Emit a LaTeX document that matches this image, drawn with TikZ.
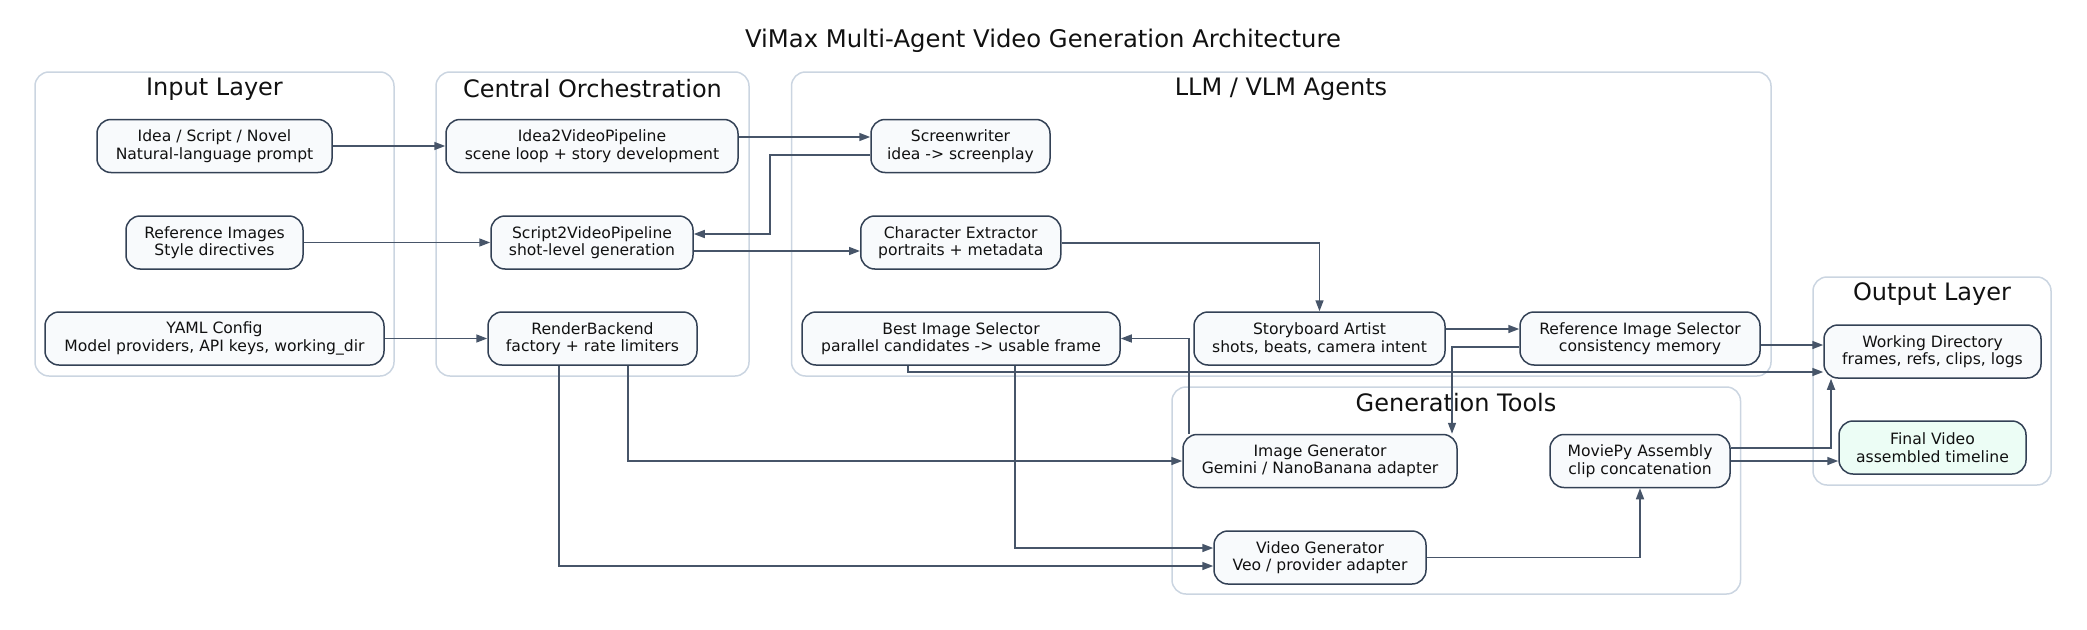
\documentclass[tikz,border=0pt]{standalone}
\usepackage{fontspec}
\setmainfont{DejaVu Sans}
\usetikzlibrary{arrows.meta}
\definecolor{edgec}{HTML}{475569}
\definecolor{nodeb}{HTML}{334155}
\definecolor{nodef}{HTML}{F8FAFC}
\definecolor{clusb}{HTML}{CBD5E1}
\definecolor{finalf}{HTML}{ECFDF5}
\definecolor{txt}{HTML}{111111}
\begin{document}
\begin{tikzpicture}[x=1pt,y=-1pt,
  box/.style={draw=nodeb, fill=nodef, line width=1.5pt, rounded corners=14pt,
    minimum height=53pt, inner sep=0pt, align=center, text=txt,
    font=\fontsize{15.6}{17.5}\selectfont},
  clus/.style={draw=clusb, line width=1.5pt, rounded corners=14pt},
  clabel/.style={font=\fontsize{24}{26}\selectfont, text=txt, inner sep=0pt},
  conn/.style={draw=edgec, line width=1.55pt, -{Triangle[length=11pt,width=8pt]}}
]
\useasboundingbox (0,0) rectangle (2087,629);
% title
\node[clabel, font=\fontsize{24.3}{26}\selectfont] (title) at (1043,41) {ViMax Multi-Agent Video Generation Architecture};
% clusters
\draw[clus] (35,72) rectangle (394,376);
\draw[clus] (436,72) rectangle (749,376);
\draw[clus] (791.5,72) rectangle (1771,376);
\draw[clus] (1813,277) rectangle (2051,485);
\draw[clus] (1172,387) rectangle (1740.5,594);
\node[clabel] (linput) at (214.5,89) {Input Layer};
\node[clabel] (lcentral) at (592.5,89) {Central Orchestration};
\node[clabel] (lllm) at (1281,89) {LLM / VLM Agents};
\node[clabel] (loutput) at (1932,294) {Output Layer};
\node[clabel] (lgen) at (1456,403) {Generation Tools};
% nodes
\node[box, minimum width=235pt] (idea) at (214.5,146) {Idea / Script / Novel\\Natural-language prompt};
\node[box, minimum width=292pt] (i2v) at (592,146) {Idea2VideoPipeline\\scene loop + story development};
\node[box, minimum width=177pt] (refimg) at (214.5,242.5) {Reference Images\\Style directives};
\node[box, minimum width=202pt] (s2v) at (592,242.5) {Script2VideoPipeline\\shot-level generation};
\node[box, minimum width=339pt] (yaml) at (214.5,338.5) {YAML Config\\Model providers, API keys, working\_dir};
\node[box, minimum width=209pt] (render) at (592.5,338.5) {RenderBackend\\factory + rate limiters};
\node[box, minimum width=179pt] (screen) at (960.5,146) {Screenwriter\\idea -> screenplay};
\node[box, minimum width=200pt] (charx) at (960.75,242.5) {Character Extractor\\portraits + metadata};
\node[box, minimum width=318pt] (bis) at (961,338.5) {Best Image Selector\\parallel candidates -> usable frame};
\node[box, minimum width=251pt] (sba) at (1319.5,338.5) {Storyboard Artist\\shots, beats, camera intent};
\node[box, minimum width=240pt] (ris) at (1640,338.5) {Reference Image Selector\\consistency memory};
\node[box, minimum width=217pt] (wd) at (1932.5,351.5) {Working Directory\\frames, refs, clips, logs};
\node[box, minimum width=187pt, fill=finalf] (fv) at (1932.5,447.5) {Final Video\\assembled timeline};
\node[box, minimum width=274pt] (imgen) at (1320,461) {Image Generator\\Gemini / NanoBanana adapter};
\node[box, minimum width=180pt] (moviepy) at (1640,461) {MoviePy Assembly\\clip concatenation};
\node[box, minimum width=212pt] (vidgen) at (1320,557.5) {Video Generator\\Veo / provider adapter};
% helper coordinates
\coordinate (y137) at (0,137);
\coordinate (y155) at (0,155);
\coordinate (y234) at (0,234);
\coordinate (y251) at (0,251);
\coordinate (y243) at (0,243);
\coordinate (y329) at (0,329);
\coordinate (y338) at (0,338);
\coordinate (y347) at (0,347);
\coordinate (y345) at (0,345);
\coordinate (y372) at (0,372);
\coordinate (y548) at (0,548);
\coordinate (y566) at (0,566);
\coordinate (y448) at (0,448);
\coordinate (x770) at (770,0);
\coordinate (x1189) at (1189,0);
\coordinate (x1452) at (1452,0);
\coordinate (x908) at (908,0);
\coordinate (x1015) at (1015,0);
\coordinate (x628) at (628,0);
\coordinate (x559) at (559,0);
\coordinate (x1831) at (1831,0);
% connectors
\draw[conn] (idea.east) -- (i2v.west);
\draw[conn] (refimg.east) -- (s2v.west);
\draw[conn] (yaml.east) -- (render.west);
\draw[conn] (i2v.east |- y137) -- (screen.west |- y137);
\draw[conn] (screen.west |- y155) -- (x770 |- y155) -- (x770 |- y234) -- (s2v.east |- y234);
\draw[conn] (s2v.east |- y251) -- (charx.west |- y251);
\draw[conn] (charx.east |- y243) -| (sba.north);
\draw[conn] (sba.east |- y329) -- (ris.west |- y329);
\draw[conn] (x1189 |- imgen.north) -- (x1189 |- bis.east) -- (bis.east);
\draw[conn] (ris.west |- y347) -- (x1452 |- y347) -- (x1452 |- imgen.north);
\draw[conn] (ris.east |- y345) -- (wd.west |- y345);
\draw[conn] (x908 |- bis.south) -- (x908 |- y372) -- (wd.west |- y372);
\draw[conn] (x1015 |- bis.south) -- (x1015 |- y548) -- (vidgen.west |- y548);
\draw[conn] (x628 |- render.south) -- (x628 |- imgen.west) -- (imgen.west);
\draw[conn] (x559 |- render.south) -- (x559 |- y566) -- (vidgen.west |- y566);
\draw[conn] (vidgen.east) -| (moviepy.south);
\draw[conn] (moviepy.east |- y448) -- (x1831 |- y448) -- (x1831 |- wd.south);
\draw[conn] (moviepy.east) -- (fv.west |- moviepy.east);
\end{tikzpicture}
\end{document}
